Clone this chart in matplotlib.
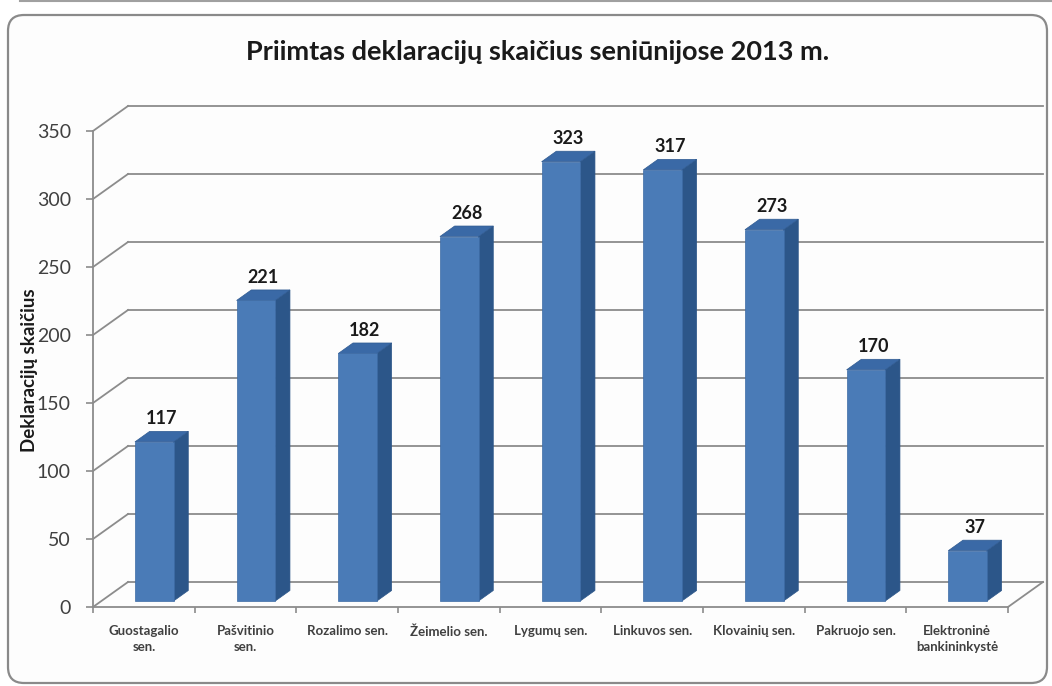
import matplotlib
matplotlib.use('Agg')
import matplotlib.pyplot as plt
from matplotlib.patches import Polygon, FancyBboxPatch
from matplotlib.lines import Line2D
from matplotlib.transforms import IdentityTransform

plt.rcParams['font.family'] = ['Lato', 'DejaVu Sans']

# data
categories = ['Guostagalio\nsen.', 'Pašvitinio\nsen.', 'Rozalimo sen.', 'Žeimelio sen.',
              'Lygumų sen.', 'Linkuvos sen.', 'Klovainių sen.', 'Pakruojo sen.',
              'Elektroninė\nbankininkystė']
values = [117, 221, 182, 268, 323, 317, 273, 170, 37]
yticks = [0, 50, 100, 150, 200, 250, 300, 350]

title = 'Priimtas deklaracijų skaičius seniūnijose 2013 m.'
ylabel = 'Deklaracijų skaičius'

W, H = 1052, 686
fig = plt.figure(figsize=(W / 100, H / 100), dpi=100)
fig.patch.set_facecolor('white')

# outer chart frame
frame = FancyBboxPatch((8, H - 683), 1039, 668, boxstyle='round,pad=0,rounding_size=16',
                       transform=IdentityTransform(), facecolor='#fdfdfd',
                       edgecolor='#8a8a8a', lw=1.6, zorder=0)
fig.add_artist(frame)
fig.add_artist(Line2D([20 / W, 1], [0.998, 0.998], color='#a0a0a0', lw=1.5))

ax = fig.add_axes([93 / W, (H - 607) / H, 915 / W, 476 / H])
ax.set_facecolor('none')
n = len(values)
ax.set_xlim(-0.5, n - 0.5)
ax.set_ylim(0, 350)

# depth of the 3d box, in pixels -> data units
px_x = ax.bbox.width / n
px_y = ax.bbox.height / 350
DX = 35 / px_x
DY = 25 / px_y

grid = '#8c8c8c'
x0, x1 = -0.5, n - 0.5
for v in yticks:
    ax.plot([x0 + DX, x1 + DX], [v + DY, v + DY], color=grid, lw=1.3, clip_on=False, zorder=1)
    ax.plot([x0, x0 + DX], [v, v + DY], color=grid, lw=1.3, clip_on=False, zorder=1)
ax.plot([x1, x1 + DX], [0, DY], color=grid, lw=1.3, clip_on=False, zorder=1)

front = '#4a7bb7'
side = '#2c5689'
top = '#3a69a6'
bw = 0.38
f0, f1 = 0.24, 0.66

for i, v in enumerate(values):
    c = i + 0.02
    xl, xr = c - bw / 2, c + bw / 2
    ox0, oy0 = f0 * DX, f0 * DY
    ox1, oy1 = f1 * DX, f1 * DY
    side_face = Polygon([(xr + ox0, oy0), (xr + ox1, oy1), (xr + ox1, v + oy1), (xr + ox0, v + oy0)],
                        closed=True, facecolor=side, edgecolor=side, lw=0.5, clip_on=False, zorder=3)
    top_face = Polygon([(xl + ox0, v + oy0), (xr + ox0, v + oy0), (xr + ox1, v + oy1), (xl + ox1, v + oy1)],
                       closed=True, facecolor=top, edgecolor='#2f5a91', lw=0.5, clip_on=False, zorder=3)
    ax.add_patch(side_face)
    ax.add_patch(top_face)
    ax.bar(c + ox0, v, bottom=oy0, width=bw, color=front, edgecolor='#3d6ba5', lw=0.5,
           zorder=4, clip_on=False)
    ax.text(c + (ox0 + ox1) / 2, v + oy1 + 3, str(v), ha='center', va='bottom',
            fontsize=13, fontweight='bold', color='#1a1a1a', zorder=5)

for s in ['top', 'right']:
    ax.spines[s].set_visible(False)
for s in ['left', 'bottom']:
    ax.spines[s].set_color(grid)
    ax.spines[s].set_linewidth(1.3)

ax.set_yticks(yticks)
ax.set_yticklabels([str(t) for t in yticks], fontsize=14, color='#404040')
ax.tick_params(axis='y', length=5, width=1.2, color=grid, pad=11)
ax.set_xticks(range(n))
ax.set_xticklabels(categories, fontsize=9.5, fontweight='bold', color='#404040', linespacing=1.4)
ax.set_xticks([k - 0.5 for k in range(n + 1)], minor=True)
ax.tick_params(axis='x', which='major', length=0, pad=13)
ax.tick_params(axis='x', which='minor', length=4, width=1.2, color=grid)

fig.text(538 / W, 1 - 52 / H, title, ha='center', va='center', fontsize=19.5, fontweight='bold',
         color='#1a1a1a')
fig.text(30 / W, 1 - 370 / H, ylabel, ha='center', va='center', rotation=90, fontsize=13.5,
         fontweight='bold', color='#1a1a1a')

fig.savefig('out.png', dpi=100)
